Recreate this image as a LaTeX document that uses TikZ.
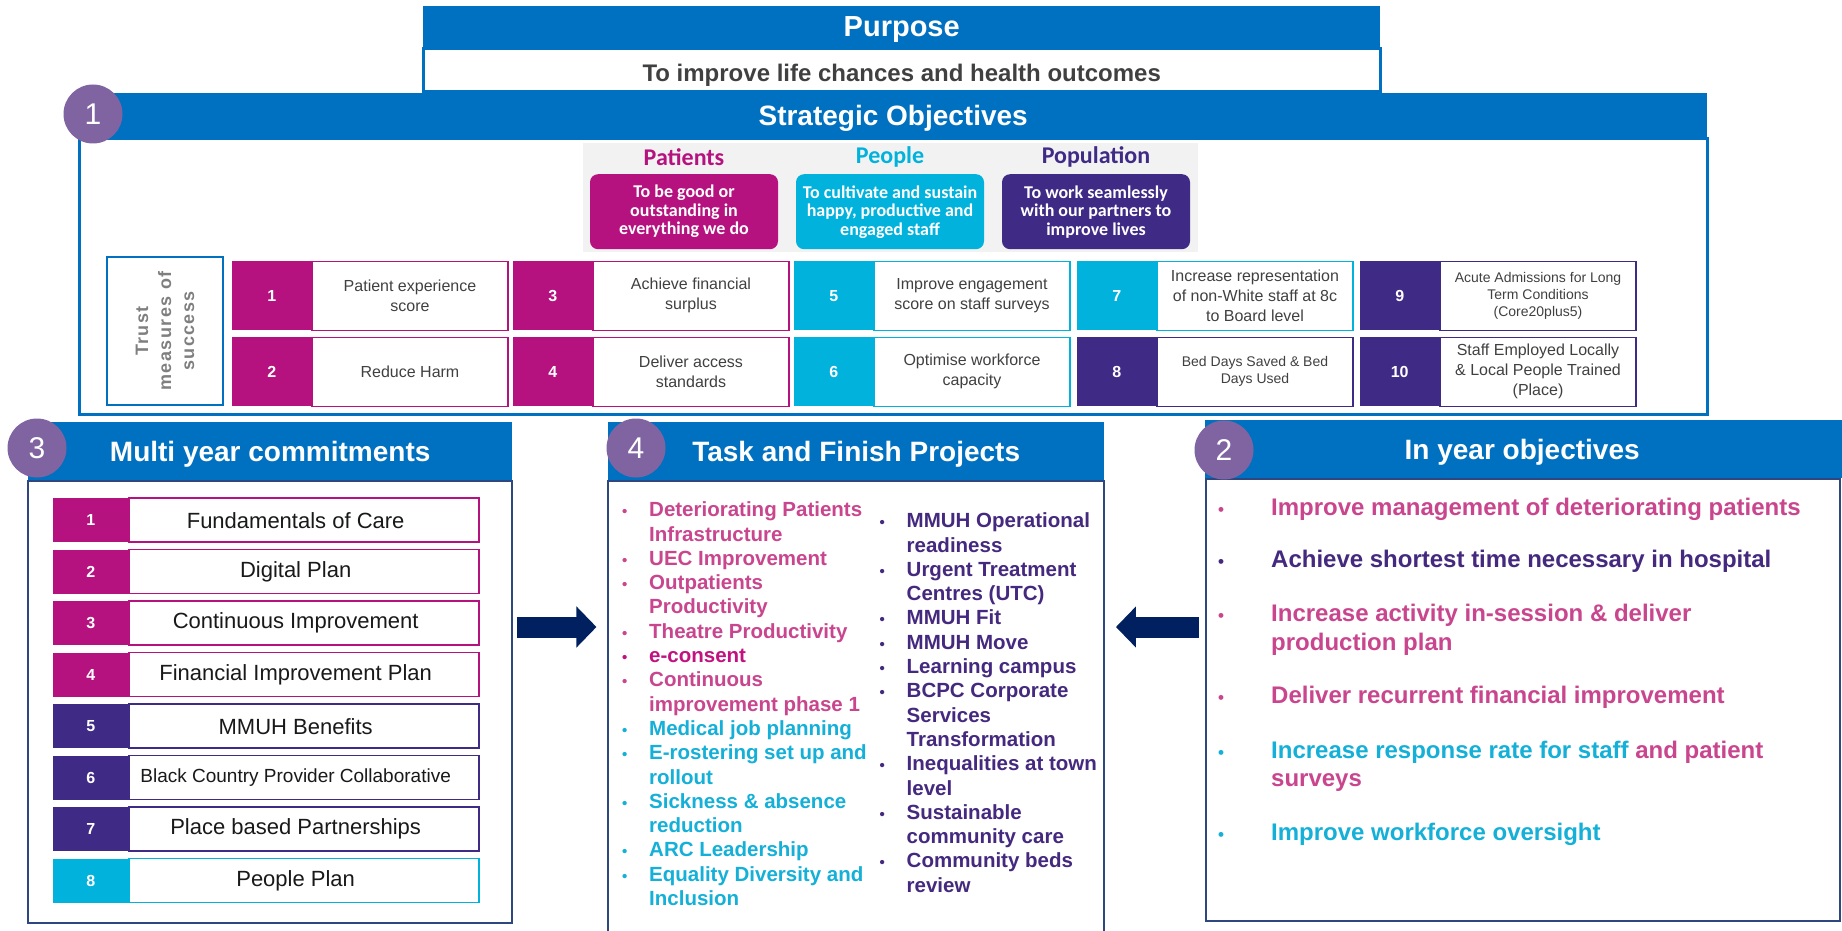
\documentclass[tikz,border=0pt]{standalone}
\usepackage{fontspec}
\setmainfont{Liberation Sans}
\newfontfamily\calfont{Carlito}
\newfontfamily\trackedfont[LetterSpace=8]{Liberation Sans}
\usetikzlibrary{positioning, calc, arrows.meta}

\definecolor{hdrblue}{HTML}{0070C0}
\definecolor{badgepurple}{HTML}{8064A2}
\definecolor{arrownavy}{HTML}{002060}
\definecolor{trustmag}{HTML}{B5127F}
\definecolor{trustcyan}{HTML}{00B2DC}
\definecolor{trustpurple}{HTML}{3F2A85}
\definecolor{pinktext}{HTML}{C9468E}
\definecolor{consentmag}{HTML}{C2127F}
\definecolor{purpletext}{HTML}{44297F}
\definecolor{cyantext}{HTML}{14B0D8}
\definecolor{bodytext}{HTML}{404040}
\definecolor{greypanel}{HTML}{F2F2F2}
\definecolor{paneledge}{HTML}{2E4780}
\definecolor{trustgrey}{HTML}{7F7F7F}

% one success measure: number block + text cell
\newcommand{\measure}[6][]{%
  \node[numcell=#4, anchor=north west] (#2num) at (#3) {#5};
  \node[measurecell=#4, right=0pt of #2num, #1] (#2) {#6};}
% one multi year commitment row
\newcommand{\commit}[6][]{%
  \node[rownum=#4, anchor=north west] (#2num) at (#3) {#5};
  \node[rowtext=#4, right=0pt of #2num, #1] (#2) {\hspace*{-17pt}#6};}
% bullet list rows for the projects panel
\newcommand{\blt}[2]{\makebox[27pt][l]{\textcolor{#1}{\fontsize{15}{15}\selectfont\textbullet}} & \textcolor{#1}{#2}\\}
\newcommand{\cnt}[2]{& \textcolor{#1}{#2}\\}
\newcommand{\ybul}[1]{\makebox[0pt]{\textcolor{#1}{\fontsize{17}{17}\selectfont\textbullet}}\hspace{50pt}}

\tikzset{
  head/.style={fill=hdrblue, text=white, anchor=north west, text depth=0pt, font=\bfseries\fontsize{28}{28}\selectfont},
  panel/.style={draw=paneledge, line width=1.5pt, fill=white},
  badge/.style={circle, fill=badgepurple, minimum size=59pt, text=white, font=\fontsize{30}{30}\selectfont},
  numcell/.style={fill=#1, minimum width=79pt, minimum height=69pt, text=white, font=\bfseries\fontsize{16}{16}\selectfont},
  measurecell/.style={draw=#1, line width=1.2pt, minimum width=196pt, minimum height=69pt, align=center, text=bodytext, font=\fontsize{16}{20}\selectfont},
  rownum/.style={fill=#1, minimum width=75pt, minimum height=44pt, text=white, font=\bfseries\fontsize{16}{16}\selectfont},
  rowtext/.style={draw=#1, line width=1.5pt, minimum width=350pt, minimum height=44pt, text=black!90, font=\fontsize{22}{22}\selectfont},
  pillar/.style={fill=#1, rounded corners=8pt, minimum width=188pt, minimum height=75pt, anchor=north, text=white, align=center, font=\calfont\bfseries\fontsize{18}{18.5}\selectfont},
  pillartitle/.style={font=\calfont\bfseries\fontsize{24}{24}\selectfont},
  yearline/.style={anchor=mid west, font=\bfseries\fontsize{24}{28}\selectfont},
  blockarrow/.style={draw=arrownavy, line width=21pt, -{Triangle[length=20pt, width=40pt]}}
}

\begin{document}
\begin{tikzpicture}[x=1pt, y=-1pt, node distance=0pt, every node/.append style={inner sep=0pt}]
  \useasboundingbox (0,0) rectangle (1842,931);

  % purpose
  \node[head, minimum width=957pt, minimum height=41pt, font=\bfseries\fontsize{29}{29}\selectfont] (purposehead) at (423,6) {Purpose};
  \node[below=0pt of purposehead, draw=hdrblue, line width=3pt, minimum width=957pt, minimum height=43pt, text height=23pt, text depth=0pt, text=bodytext, font=\bfseries\fontsize{24}{24}\selectfont] (purpose) {To improve life chances and health outcomes};

  % strategic objectives
  \node[head, minimum width=1628pt, minimum height=44pt] (stratshead) at (79,93) {Strategic Objectives};
  \node[below=0pt of stratshead, draw=hdrblue, line width=3pt, minimum width=1628pt, minimum height=276pt] (strats) {};
  \node[badge] (badge1) at (93,114) {1};

  \fill[greypanel] (583,143) rectangle (1198,252);
  \node[pillartitle, text=trustmag] (patientsT) at (684,157) {Patients};
  \node[pillartitle, text=trustcyan] (peopleT) at (890,157) {People};
  \node[pillartitle, text=trustpurple] (populationT) at (1096,157) {Population};
  \node[pillar=trustmag] (patients) at (684,174) {To be good or\\outstanding in\\everything we do};
  \node[pillar=trustcyan] (people) at (890,174) {To cultivate and sustain\\happy, productive and\\engaged staff};
  \node[pillar=trustpurple] (population) at (1096,174) {To work seamlessly\\with our partners to\\improve lives};

  \node[draw=hdrblue, line width=2.5pt, minimum width=148pt, minimum height=116pt, rotate=90, align=center, text=trustgrey, font=\trackedfont\bfseries\fontsize{18}{23}\selectfont] (trust) at (165,331) {Trust\\measures of\\success};

  \measure{kpi1}{232,261}{trustmag}{1}{Patient experience\\score}
  \measure{kpi2}{232,337}{trustmag}{2}{Reduce Harm}
  \measure{kpi3}{513,261}{trustmag}{3}{Achieve financial\\surplus}
  \measure{kpi4}{513,337}{trustmag}{4}{Deliver access\\standards}
  \measure{kpi5}{794,261}{trustcyan}{5}{Improve  engagement\\score on staff surveys}
  \measure{kpi6}{794,337}{trustcyan}{6}{Optimise  workforce\\capacity}
  \measure{kpi7}{1077,261}{trustcyan}{7}{Increase representation\\of non-White staff at 8c\\to Board level}
  \measure[font=\fontsize{14}{17}\selectfont]{kpi8}{1077,337}{trustpurple}{8}{Bed Days Saved \& Bed\\Days Used}
  \measure[font=\fontsize{14}{17}\selectfont]{kpi9}{1360,261}{trustpurple}{9}{Acute Admissions  for Long\\Term Conditions\\(Core20plus5)}
  \measure{kpi10}{1360,337}{trustpurple}{10}{Staff Employed Locally\\\& Local People Trained\\(Place)}

  % multi year commitments
  \node[head, minimum width=484pt, minimum height=58pt] (multihead) at (28,422) {Multi year commitments};
  \node[panel, below=0pt of multihead, minimum width=484pt, minimum height=442pt] (multi) {};
  \node[badge] (badge3) at (37,448) {3};

  \commit{mc1}{53,498}{trustmag}{1}{Fundamentals of Care}
  \commit{mc2}{53,549.5}{trustmag}{2}{Digital Plan}
  \commit{mc3}{53,601}{trustmag}{3}{Continuous Improvement}
  \commit{mc4}{53,652.5}{trustmag}{4}{Financial Improvement Plan}
  \commit{mc5}{53,704}{trustpurple}{5}{MMUH  Benefits}
  \commit[font=\fontsize{19}{19}\selectfont]{mc6}{53,755.5}{trustpurple}{6}{Black Country Provider  Collaborative}
  \commit{mc7}{53,807}{trustpurple}{7}{Place based Partnerships}
  \commit{mc8}{53,858.5}{trustcyan}{8}{People Plan}

  % task and finish projects
  \node[head, minimum width=496pt, minimum height=58pt] (taskhead) at (608,422) {Task and Finish Projects};
  \node[panel, below=0pt of taskhead, minimum width=496pt, minimum height=470pt] (task) {};
  \node[badge] (badge4) at (636,448) {4};

  \node[anchor=north west, font=\bfseries\fontsize{20.5}{24.3}\selectfont] (taskleft) at (622,499.5) {%
    \begin{tabular}{@{}l@{}l@{}}
      \blt{pinktext}{Deteriorating Patients}
      \cnt{pinktext}{Infrastructure}
      \blt{pinktext}{UEC  Improvement}
      \blt{pinktext}{Outpatients}
      \cnt{pinktext}{Productivity}
      \blt{pinktext}{Theatre Productivity}
      \blt{consentmag}{e-consent}
      \blt{pinktext}{Continuous}
      \cnt{pinktext}{improvement phase 1}
      \blt{cyantext}{Medical job planning}
      \blt{cyantext}{E-rostering  set up and}
      \cnt{cyantext}{rollout}
      \blt{cyantext}{Sickness  \& absence}
      \cnt{cyantext}{reduction}
      \blt{cyantext}{ARC  Leadership}
      \blt{cyantext}{Equality Diversity  and}
      \cnt{cyantext}{Inclusion}
    \end{tabular}};
  \node[anchor=north west, font=\bfseries\fontsize{20.5}{24.3}\selectfont] (taskright) at (879.5,510.5) {%
    \begin{tabular}{@{}l@{}l@{}}
      \blt{purpletext}{MMUH  Operational}
      \cnt{purpletext}{readiness}
      \blt{purpletext}{Urgent Treatment}
      \cnt{purpletext}{Centres (UTC)}
      \blt{purpletext}{MMUH Fit}
      \blt{purpletext}{MMUH  Move}
      \blt{purpletext}{Learning campus}
      \blt{purpletext}{BCPC Corporate}
      \cnt{purpletext}{Services}
      \cnt{purpletext}{Transformation}
      \blt{purpletext}{Inequalities at town}
      \cnt{purpletext}{level}
      \blt{purpletext}{Sustainable}
      \cnt{purpletext}{community  care}
      \blt{purpletext}{Community  beds}
      \cnt{purpletext}{review}
    \end{tabular}};

  % in year objectives
  \node[head, minimum width=640pt, minimum height=58pt] (inyearhead) at (1205,420) {\hspace*{-6pt}In year objectives};
  \node[panel, below=0pt of inyearhead.south west, anchor=north west, minimum width=634pt, minimum height=442pt] (inyear) {};
  \node[badge] (badge2) at (1224,450) {2};

  \node[yearline, text=pinktext] (iy1) at (1221,512.5) {\ybul{pinktext}Improve management of deteriorating  patients};
  \node[yearline, text=purpletext] (iy2) at (1221,564.5) {\ybul{purpletext}Achieve shortest time necessary in hospital};
  \node[yearline, text=pinktext] (iy3) at (1221,618.5) {\ybul{pinktext}Increase activity  in-session \& deliver};
  \node[yearline, text=pinktext] (iy3b) at (1271,647.5) {production plan};
  \node[yearline, text=pinktext] (iy4) at (1221,700.5) {\ybul{pinktext}Deliver recurrent financial  improvement};
  \node[yearline, text=cyantext] (iy5) at (1221,755.5) {\ybul{cyantext}Increase response rate for staff \textcolor{pinktext}{and patient}};
  \node[yearline, text=pinktext] (iy5b) at (1271,783.5) {surveys};
  \node[yearline, text=cyantext] (iy6) at (1221,837.5) {\ybul{cyantext}Improve  workforce oversight};

  % arrows between the panels
  \coordinate (armY) at (0,627);
  \draw[blockarrow] ($(multi.east |- armY)+(4pt,0)$) -- ($(task.west |- armY)+(-11pt,0)$);
  \draw[blockarrow] ($(inyear.west |- armY)+(-6pt,0)$) -- ($(task.east |- armY)+(11pt,0)$);
\end{tikzpicture}
\end{document}
